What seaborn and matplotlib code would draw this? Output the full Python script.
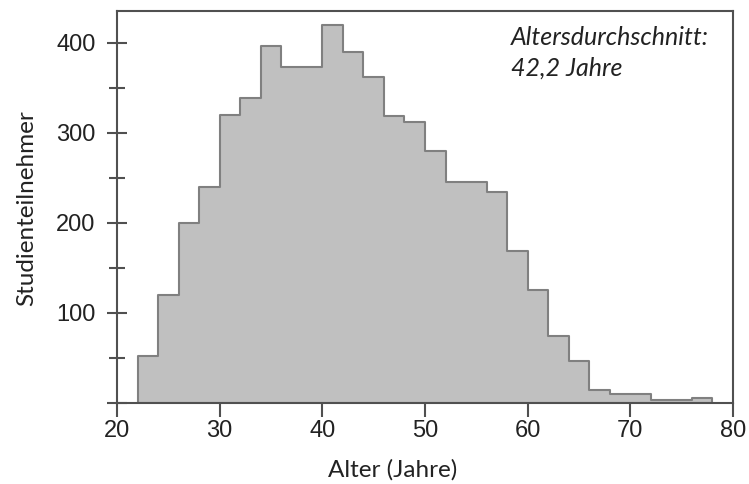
import numpy as np
import pandas as pd
import matplotlib
matplotlib.use("Agg")
import matplotlib.pyplot as plt
import seaborn as sns
from matplotlib.ticker import FixedLocator

# Data: age bins (2-year width) and counts
bin_edges = [22, 24, 26, 28, 30, 32, 34, 36, 38, 40, 42, 44, 46, 48, 50,
             52, 54, 56, 58, 60, 62, 64, 66, 68, 70, 72, 74, 76, 78]
counts = [52, 120, 200, 240, 320, 338, 396, 373, 373, 419, 389, 362, 318, 312,
          280, 245, 245, 234, 169, 125, 74, 47, 14, 10, 10, 3, 3, 5]
x_ticks = [20, 30, 40, 50, 60, 70, 80]
y_ticks = [100, 200, 300, 400]
y_minor = [50, 150, 250, 350]
annotation_lines = ["Altersdurchschnitt:", "42,2 Jahre"]

centers = [(a + b) / 2 for a, b in zip(bin_edges[:-1], bin_edges[1:])]
df = pd.DataFrame({"Alter": centers, "n": counts})

sns.set_style("white")
plt.rcParams["font.family"] = ["Liberation Sans", "DejaVu Sans"]

W, H = 749, 484
fig = plt.figure(figsize=(W / 100, H / 100), dpi=100)
L, R, T, B = 117, 733, 11, 403
ax = fig.add_axes([L / W, 1 - B / H, (R - L) / W, (B - T) / H])

sns.histplot(data=df, x="Alter", weights="n", bins=bin_edges, element="step",
             fill=True, color="#c0c0c0", alpha=1, edgecolor="#808080",
             linewidth=1.5, ax=ax)

ax.set_xlim(20, 80)
ax.set_ylim(0, 435)
ax.xaxis.set_major_locator(FixedLocator(x_ticks))
ax.yaxis.set_major_locator(FixedLocator([0] + y_ticks))
ax.yaxis.set_minor_locator(FixedLocator(y_minor))
ax.set_yticklabels([""] + [str(v) for v in y_ticks])

spine_c = "#505050"
for s in ax.spines.values():
    s.set_color(spine_c)
    s.set_linewidth(1.5)
    s.set_visible(True)

ax.tick_params(axis="x", which="major", direction="out", length=10, width=1.5,
               color=spine_c, labelsize=17, labelcolor="#222222", pad=2, bottom=True)
ax.tick_params(axis="y", which="major", direction="inout", length=15, width=1.5,
               color=spine_c, labelsize=17, labelcolor="#222222", pad=8, left=True)
ax.tick_params(axis="y", which="minor", direction="inout", length=12, width=1.5,
               color=spine_c, left=True)

ax.set_xlabel("Alter (Jahre)", fontsize=17.5, color="#222222", family="Lato")
ax.xaxis.label.set_va("baseline")
ax.xaxis.set_label_coords((393 - L) / (R - L), (B - 477) / (B - T))

ax.set_ylabel("Studienteilnehmer", fontsize=17.5, color="#222222", family="Lato")
ax.yaxis.label.set_va("baseline")
ax.yaxis.set_label_coords((33 - L) / (R - L), (B - 208) / (B - T))

for line, yb in zip(annotation_lines, [45, 76]):
    ax.text((511 - L) / (R - L), (B - yb) / (B - T), line, transform=ax.transAxes,
            ha="left", va="baseline", fontsize=18, style="italic", family="Lato",
            color="#222222")

fig.savefig("out.png", dpi=100)
